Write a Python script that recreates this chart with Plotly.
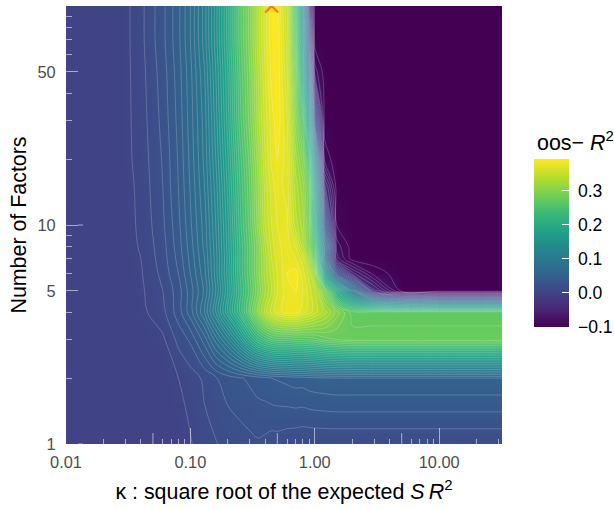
import plotly.graph_objects as go

kappa = [0.01, 0.02, 0.03, 0.04, 0.06, 0.08, 0.10, 0.13, 0.16, 0.20, 0.25, 0.30, 0.35, 0.40,
         0.45, 0.50, 0.60, 0.70, 0.80, 0.90, 1.0, 1.2, 1.5, 2.0, 3.0, 5.0, 10.0, 32.0]
factors = [1, 2, 3, 4, 5, 6, 7, 8, 10, 15, 20, 30, 50, 70, 100]

z_f1 = [0, 0, 0, 0, 0, 0, .004, .012, .0145, .018, .02, .022, .0235, .022, .02, .02, .018, .017, .016, .016, .016, .016, .016, .016, .016, .016, .016, .016]
z_f2 = [0, 0, 0, 0, 0, .005, .01, .017, .024, .03, .034, .037, .04, .042, .045, .046, .048, .05, .05, .052, .053, .054, .055, .055, .055, .055, .055, .055]
z_f3 = [0, 0, 0, 0, .003, .018, .027, .05, .08, .11, .15, .19, .22, .235, .245, .25, .25, .255, .255, .258, .26, .27, .275, .28, .28, .28, .28, .28]
z_f4 = [0, 0, 0, .002, .012, .03, .05, .085, .125, .175, .225, .27, .31, .34, .36, .37, .38, .38, .37, .36, .35, .33, .30, .27, .27, .27, .27, .27]
z_f5 = [0, 0, 0, .003, .015, .03, .05, .077, .115, .165, .22, .26, .295, .325, .345, .365, .38, .385, .375, .36, .345, .29, .20, .10, -.04, -.1, -.1, -.1]
z_f6 = [0, 0, 0, .004, .018, .035, .055, .082, .12, .17, .225, .265, .30, .33, .35, .365, .385, .39, .37, .35, .31, .16, .03, -.05, -.09, -.1, -.1, -.1]
z_f7 = [0, 0, .001, .005, .02, .038, .058, .085, .12, .168, .225, .265, .30, .33, .355, .37, .38, .375, .36, .32, .26, .08, -.07, -.1, -.1, -.1, -.1, -.1]
z_f8 = [0, 0, .001, .006, .021, .04, .06, .088, .122, .17, .225, .265, .30, .335, .36, .372, .38, .365, .33, .29, .24, .08, -.08, -.1, -.1, -.1, -.1, -.1]
z_f10 = [0, 0, .001, .007, .023, .042, .063, .09, .125, .172, .23, .27, .31, .345, .365, .375, .378, .34, .32, .28, .20, .03, -.095, -.1, -.1, -.1, -.1, -.1]
z_f15 = [0, 0, .001, .008, .025, .045, .066, .095, .13, .178, .235, .275, .315, .35, .37, .38, .37, .33, .31, .27, .16, -.04, -.1, -.1, -.1, -.1, -.1, -.1]
z_f20 = [0, 0, .002, .009, .026, .046, .068, .098, .135, .183, .24, .28, .32, .355, .378, .385, .37, .32, .29, .23, .11, -.09, -.1, -.1, -.1, -.1, -.1, -.1]
z_f30 = [0, 0, .002, .01, .028, .048, .07, .10, .14, .19, .25, .29, .33, .36, .38, .392, .365, .30, .25, .15, .02, -.1, -.1, -.1, -.1, -.1, -.1, -.1]
z_f50 = [0, 0, .002, .011, .03, .05, .072, .105, .145, .195, .255, .295, .335, .365, .39, .393, .355, .28, .18, .06, -.08, -.1, -.1, -.1, -.1, -.1, -.1, -.1]
z_f70 = [0, 0, .002, .012, .032, .052, .075, .11, .15, .20, .26, .30, .34, .37, .392, .393, .35, .26, .15, .02, -.1, -.1, -.1, -.1, -.1, -.1, -.1, -.1]
z_f100 = [0, 0, .002, .012, .032, .052, .075, .11, .15, .20, .26, .30, .34, .37, .393, .39, .345, .24, .12, -.02, -.1, -.1, -.1, -.1, -.1, -.1, -.1, -.1]
oos_r2 = [z_f1, z_f2, z_f3, z_f4, z_f5, z_f6, z_f7, z_f8, z_f10, z_f15, z_f20, z_f30, z_f50, z_f70, z_f100]

best_kappa = [0.45]
best_factor = [100]

x_major = [0.01, 0.1, 1, 10]
x_labels = ["0.01", "0.10", "1.00", "10.00"]
x_mid = [0.05, 0.5, 5]
x_minor = [0.02, 0.03, 0.04, 0.06, 0.07, 0.08, 0.09, 0.2, 0.3, 0.4, 0.6, 0.7, 0.8, 0.9,
           2, 3, 4, 6, 7, 8, 9, 20, 30]
y_major = [1, 5, 10, 50]
y_long = [1, 10]
y_minor = [2, 3, 4, 6, 7, 8, 9, 20, 30, 40, 60, 70, 80, 90]
cb_ticks = [-0.1, 0.0, 0.1, 0.2, 0.3]
cb_labels = ["\u22120.1", "0.0", "0.1", "0.2", "0.3"]

ZMIN, ZMAX = -0.1, 0.393
TICK = "rgba(255,255,255,0.55)"
FONT = "Liberation Sans, Arial, sans-serif"
L, R, T, B = 66, 502, 6, 444
W, H = 614, 509
PW, PH = R - L, B - T
CB_X0, CB_X1, CB_Y0, CB_Y1 = 534, 569, 159, 327

fig = go.Figure()
fig.add_trace(go.Heatmap(x=kappa, y=factors, z=oos_r2, zmin=ZMIN, zmax=ZMAX, colorscale="Viridis",
                         zsmooth="best", hoverinfo="skip",
                         colorbar=dict(x=(CB_X0 - L) / PW, xanchor="left", xpad=0, ypad=0,
                                       y=(B - CB_Y1) / PH, yanchor="bottom",
                                       len=CB_Y1 - CB_Y0, lenmode="pixels",
                                       thickness=CB_X1 - CB_X0, thicknessmode="pixels", outlinewidth=0,
                                       tickvals=cb_ticks, ticktext=["\u00a0" + t for t in cb_labels],
                                       ticks="inside", ticklen=7, tickcolor="#ffffff", tickwidth=1.3,
                                       tickfont=dict(size=17.6, color="#000", family=FONT))))
fig.add_trace(go.Contour(x=kappa, y=factors, z=oos_r2, showscale=False, hoverinfo="skip",
                         autocontour=False,
                         contours=dict(coloring="none", start=-0.095, end=0.385, size=0.01),
                         line=dict(color="rgba(255,255,255,0.33)", width=0.6, smoothing=1)))
fig.add_trace(go.Scatter(x=best_kappa, y=best_factor, mode="markers", showlegend=False, cliponaxis=True,
                         marker=dict(symbol="x-thin", size=13, line=dict(color="#f57a1a", width=2.2))))

shapes = []
for v in x_mid:
    shapes.append(dict(type="line", xref="x", yref="paper", x0=v, x1=v, y0=0, y1=11 / PH,
                       line=dict(color=TICK, width=1)))
for v in y_long:
    shapes.append(dict(type="line", yref="y", xref="paper", y0=v, y1=v, x0=12 / PW, x1=17 / PW,
                       line=dict(color=TICK, width=1)))
fig.update_layout(
    width=W, height=H, autosize=False, margin=dict(l=L, r=W - R, t=T, b=H - B, autoexpand=False),
    paper_bgcolor="white", plot_bgcolor="white", showlegend=False, shapes=shapes,
    font=dict(family=FONT),
    xaxis=dict(type="log", range=[-2, 1.505], showgrid=False, zeroline=False, showline=True,
               linecolor=TICK, linewidth=1, ticks="inside", ticklen=16, tickcolor=TICK, tickwidth=1,
               tickvals=x_major, ticktext=x_labels, ticklabelstandoff=3,
               tickfont=dict(size=16.4, color="#4d4d4d"),
               minor=dict(tickvals=x_minor, ticks="inside", ticklen=5, tickcolor=TICK, tickwidth=1, showgrid=False),
               title=dict(text="\u03ba : square root of the expected <i>S\u2009R</i><sup>2</sup>",
                          font=dict(size=21.4, color="#000"), standoff=14)),
    yaxis=dict(type="log", range=[0, 2], showgrid=False, zeroline=False, showline=True,
               linecolor=TICK, linewidth=1, ticks="inside", ticklen=12, tickcolor=TICK, tickwidth=1,
               tickvals=y_major, ticktext=[str(v) for v in y_major], ticklabelstandoff=6,
               tickfont=dict(size=16.4, color="#4d4d4d"),
               minor=dict(tickvals=y_minor, ticks="inside", ticklen=6, tickcolor=TICK, tickwidth=1, showgrid=False),
               title=dict(text="Number of Factors", font=dict(size=21.4, color="#000"), standoff=4)),
    annotations=[dict(text="oos\u2212 <i>R</i><sup>2</sup>", xref="paper", yref="paper",
                      x=(535 - L) / PW, y=(B - 141) / PH, xanchor="left", yanchor="middle", showarrow=False,
                      font=dict(size=21.4, color="#000"))],
)
fig.write_html("out.html", config=dict(displayModeBar=False), post_script="document.body.style.margin='0';")
